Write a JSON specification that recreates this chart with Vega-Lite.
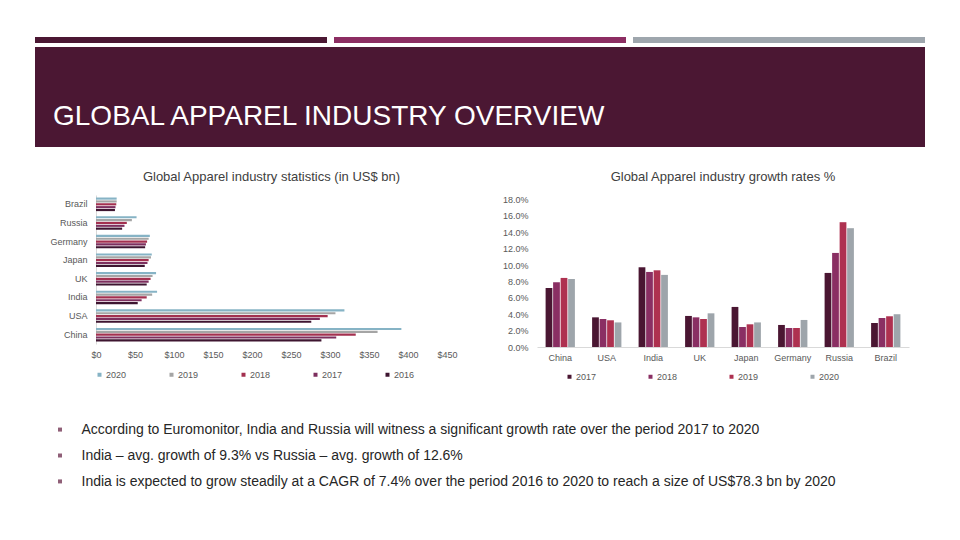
{
  "$schema": "https://vega.github.io/schema/vega-lite/v6.json",
  "background": "white",
  "padding": {"left": 35, "top": 37, "right": 0, "bottom": 0},
  "config": {
    "font": "Liberation Sans",
    "view": {"stroke": null},
    "title": {"fontWeight": "normal", "color": "#404040"}
  },
  "datasets": {
    "stats": [
      {"country": "China", "year": "2020", "value": 391.5},
      {"country": "China", "year": "2019", "value": 361},
      {"country": "China", "year": "2018", "value": 333},
      {"country": "China", "year": "2017", "value": 308},
      {"country": "China", "year": "2016", "value": 289},
      {"country": "USA", "year": "2020", "value": 318.5},
      {"country": "USA", "year": "2019", "value": 307},
      {"country": "USA", "year": "2018", "value": 297},
      {"country": "USA", "year": "2017", "value": 287},
      {"country": "USA", "year": "2016", "value": 276},
      {"country": "India", "year": "2020", "value": 78.3},
      {"country": "India", "year": "2019", "value": 72},
      {"country": "India", "year": "2018", "value": 65},
      {"country": "India", "year": "2017", "value": 58.5},
      {"country": "India", "year": "2016", "value": 53.5},
      {"country": "UK", "year": "2020", "value": 77},
      {"country": "UK", "year": "2019", "value": 72.5},
      {"country": "UK", "year": "2018", "value": 70},
      {"country": "UK", "year": "2017", "value": 67.5},
      {"country": "UK", "year": "2016", "value": 65},
      {"country": "Japan", "year": "2020", "value": 71.5},
      {"country": "Japan", "year": "2019", "value": 70.5},
      {"country": "Japan", "year": "2018", "value": 67.5},
      {"country": "Japan", "year": "2017", "value": 66},
      {"country": "Japan", "year": "2016", "value": 62.5},
      {"country": "Germany", "year": "2020", "value": 69},
      {"country": "Germany", "year": "2019", "value": 67.5},
      {"country": "Germany", "year": "2018", "value": 65.5},
      {"country": "Germany", "year": "2017", "value": 64},
      {"country": "Germany", "year": "2016", "value": 63},
      {"country": "Russia", "year": "2020", "value": 52},
      {"country": "Russia", "year": "2019", "value": 46},
      {"country": "Russia", "year": "2018", "value": 39.5},
      {"country": "Russia", "year": "2017", "value": 36.5},
      {"country": "Russia", "year": "2016", "value": 33.5},
      {"country": "Brazil", "year": "2020", "value": 26.5},
      {"country": "Brazil", "year": "2019", "value": 26.5},
      {"country": "Brazil", "year": "2018", "value": 26},
      {"country": "Brazil", "year": "2017", "value": 25},
      {"country": "Brazil", "year": "2016", "value": 24.3}
    ],
    "growth": [
      {"country": "China", "year": "2017", "rate": 0.072},
      {"country": "China", "year": "2018", "rate": 0.079},
      {"country": "China", "year": "2019", "rate": 0.0843},
      {"country": "China", "year": "2020", "rate": 0.083},
      {"country": "USA", "year": "2017", "rate": 0.0362},
      {"country": "USA", "year": "2018", "rate": 0.0342},
      {"country": "USA", "year": "2019", "rate": 0.0326},
      {"country": "USA", "year": "2020", "rate": 0.030},
      {"country": "India", "year": "2017", "rate": 0.0973},
      {"country": "India", "year": "2018", "rate": 0.0916},
      {"country": "India", "year": "2019", "rate": 0.0936},
      {"country": "India", "year": "2020", "rate": 0.088},
      {"country": "UK", "year": "2017", "rate": 0.0379},
      {"country": "UK", "year": "2018", "rate": 0.0362},
      {"country": "UK", "year": "2019", "rate": 0.0342},
      {"country": "UK", "year": "2020", "rate": 0.0411},
      {"country": "Japan", "year": "2017", "rate": 0.0489},
      {"country": "Japan", "year": "2018", "rate": 0.0244},
      {"country": "Japan", "year": "2019", "rate": 0.0277},
      {"country": "Japan", "year": "2020", "rate": 0.030},
      {"country": "Germany", "year": "2017", "rate": 0.0269},
      {"country": "Germany", "year": "2018", "rate": 0.0232},
      {"country": "Germany", "year": "2019", "rate": 0.0232},
      {"country": "Germany", "year": "2020", "rate": 0.033},
      {"country": "Russia", "year": "2017", "rate": 0.0904},
      {"country": "Russia", "year": "2018", "rate": 0.1148},
      {"country": "Russia", "year": "2019", "rate": 0.1523},
      {"country": "Russia", "year": "2020", "rate": 0.145},
      {"country": "Brazil", "year": "2017", "rate": 0.0293},
      {"country": "Brazil", "year": "2018", "rate": 0.0354},
      {"country": "Brazil", "year": "2019", "rate": 0.0375},
      {"country": "Brazil", "year": "2020", "rate": 0.040}
    ],
    "bullets": [
      {"t": "According to Euromonitor, India and Russia will witness a significant growth rate over the period 2017 to 2020"},
      {"t": "India – avg. growth of 9.3% vs Russia – avg. growth of 12.6%"},
      {"t": "India is expected to grow steadily at a CAGR of 7.4% over the period 2016 to 2020 to reach a size of US$78.3 bn by 2020"}
    ]
  },
  "spacing": 24,
  "resolve": {"scale": {"color": "independent"}, "legend": {"color": "independent"}},
  "vconcat": [
    {
      "spacing": 4,
      "vconcat": [
        {
          "spacing": 7,
          "hconcat": [
            {"width": 292, "height": 6, "data": {"values": []}, "mark": "point", "view": {"fill": "#4b1733", "stroke": null}},
            {"width": 292, "height": 6, "data": {"values": []}, "mark": "point", "view": {"fill": "#8c2d62", "stroke": null}},
            {"width": 292, "height": 6, "data": {"values": []}, "mark": "point", "view": {"fill": "#9ea6ad", "stroke": null}}
          ]
        },
        {
          "width": 890, "height": 100,
          "data": {"values": []},
          "mark": "point",
          "view": {"fill": "#4b1733", "stroke": null},
          "title": {
            "text": "GLOBAL APPAREL INDUSTRY OVERVIEW",
            "orient": "bottom", "anchor": "start", "frame": "group",
            "offset": -44, "dx": 18,
            "fontSize": 28, "color": "#ffffff", "fontWeight": "normal", "baseline": "top"
          }
        }
      ]
    },
    {
      "spacing": 0,
      "resolve": {"scale": {"color": "independent"}, "legend": {"color": "independent"}},
      "hconcat": [
        {"width": 1, "height": 1, "data": {"values": []}, "mark": "point"},
        {
          "spacing": 43,
          "resolve": {"scale": {"color": "independent"}, "legend": {"color": "independent"}},
          "hconcat": [
            {
              "width": 351, "height": 149,
              "title": {"text": "Global Apparel industry statistics (in US$ bn)", "fontSize": 13, "offset": 11, "color": "#404040"},
              "data": {"name": "stats"},
              "mark": {"type": "bar"},
              "encoding": {
                "y": {
                  "field": "country", "type": "nominal",
                  "sort": ["Brazil", "Russia", "Germany", "Japan", "UK", "India", "USA", "China"],
                  "scale": {"paddingInner": 0.27, "paddingOuter": 0.135},
                  "axis": {"title": null, "ticks": false, "domainColor": "#d9d9d9", "labelFontSize": 9, "labelColor": "#595959", "labelPadding": 9, "minExtent": 60, "maxExtent": 60}
                },
                "x": {
                  "field": "value", "type": "quantitative",
                  "scale": {"domain": [0, 450], "nice": false},
                  "axis": {"title": null, "values": [0, 50, 100, 150, 200, 250, 300, 350, 400, 450], "format": "$.0f", "grid": false, "domain": false, "ticks": false, "labelPadding": 6, "labelFlush": false, "labelFontSize": 9, "labelColor": "#595959"}
                },
                "yOffset": {"field": "year", "type": "nominal", "sort": ["2020", "2019", "2018", "2017", "2016"], "scale": {"paddingInner": 0.25}},
                "color": {
                  "field": "year", "type": "nominal",
                  "scale": {"domain": ["2020", "2019", "2018", "2017", "2016"], "range": ["#86b3c5", "#a5a5a5", "#a3304f", "#7d2f5e", "#3e1530"]},
                  "legend": {"title": null, "orient": "none", "legendX": -1, "legendY": 175, "direction": "horizontal", "columns": 5, "columnPadding": 40, "symbolType": "square", "symbolSize": 16, "labelFontSize": 9, "labelColor": "#595959", "labelOffset": 2, "padding": 0}
                }
              }
            },
            {
              "width": 372, "height": 152,
              "title": {"text": "Global Apparel industry growth rates %", "fontSize": 13, "offset": 11, "color": "#404040"},
              "data": {"name": "growth"},
              "mark": {"type": "bar"},
              "encoding": {
                "x": {
                  "field": "country", "type": "nominal",
                  "sort": ["China", "USA", "India", "UK", "Japan", "Germany", "Russia", "Brazil"],
                  "scale": {"paddingInner": 0.37, "paddingOuter": 0.185},
                  "axis": {"title": null, "labelAngle": 0, "ticks": false, "domainColor": "#d9d9d9", "labelPadding": 6, "labelFontSize": 9, "labelColor": "#595959"}
                },
                "y": {
                  "field": "rate", "type": "quantitative",
                  "scale": {"domain": [0, 0.1855], "nice": false},
                  "axis": {"title": null, "values": [0, 0.02, 0.04, 0.06, 0.08, 0.1, 0.12, 0.14, 0.16, 0.18], "format": ".1%", "grid": false, "domain": false, "ticks": false, "labelPadding": 9, "labelFontSize": 9, "labelColor": "#595959", "minExtent": 36, "maxExtent": 36}
                },
                "xOffset": {"field": "year", "type": "nominal", "sort": ["2017", "2018", "2019", "2020"], "scale": {"paddingInner": 0.1}},
                "color": {
                  "field": "year", "type": "nominal",
                  "scale": {"domain": ["2017", "2018", "2019", "2020"], "range": ["#4a1632", "#8a2f63", "#ae3150", "#9ea5ab"]},
                  "legend": {"title": null, "orient": "none", "legendX": 28, "legendY": 177, "direction": "horizontal", "columns": 4, "columnPadding": 49, "symbolType": "square", "symbolSize": 16, "labelFontSize": 9, "labelColor": "#595959", "labelOffset": 2, "padding": 0}
                }
              }
            }
          ]
        }
      ]
    },
    {
      "width": 50, "height": 99,
      "data": {"name": "bullets"},
      "mark": {"type": "point", "shape": "square", "filled": true, "size": 16, "color": "#8f5f77", "opacity": 1},
      "encoding": {
        "y": {
          "field": "t", "type": "nominal", "sort": null,
          "scale": {"padding": 0.91},
          "axis": {"orient": "right", "title": null, "domain": false, "ticks": false, "labelAlign": "left", "labelPadding": -4, "labelFontSize": 14, "labelColor": "#262626", "labelLimit": 0}
        }
      }
    }
  ]
}
